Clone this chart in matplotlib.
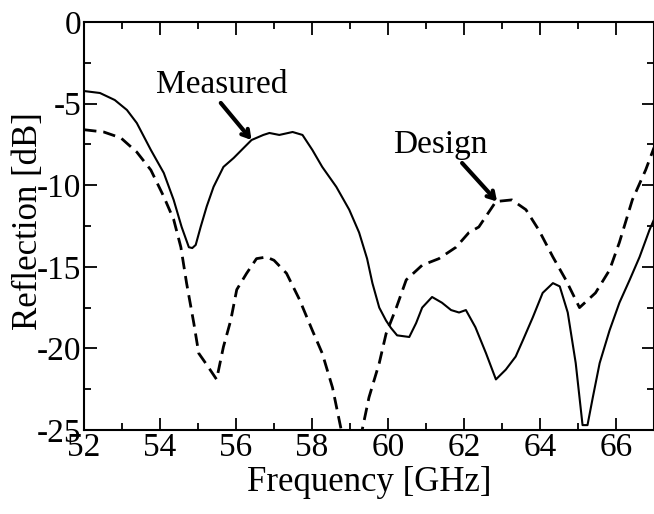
import matplotlib
matplotlib.use("Agg")
import matplotlib.pyplot as plt
from matplotlib.ticker import MultipleLocator

plt.rcParams['font.family'] = ['Liberation Serif', 'DejaVu Serif']
plt.rcParams['axes.unicode_minus'] = False

# measured reflection (solid)
meas_f = [52.0, 52.42, 52.81, 53.13, 53.39, 53.76, 54.1, 54.36, 54.57, 54.76, 54.85,
          54.94, 55.07, 55.23, 55.41, 55.67, 55.94, 56.2, 56.41, 56.72, 56.88, 57.14,
          57.49, 57.75, 58.01, 58.27, 58.64, 58.98, 59.24, 59.45, 59.59, 59.77, 59.95,
          60.08, 60.24, 60.56, 60.74, 60.9, 61.16, 61.42, 61.66, 61.87, 62.05, 62.3,
          62.58, 62.84, 63.1, 63.36, 63.55, 63.81, 64.07, 64.34, 64.52, 64.73, 64.94,
          65.12, 65.25, 65.39, 65.57, 65.83, 66.09, 66.36, 66.62, 66.88, 67.0]
meas_db = [-4.23, -4.35, -4.78, -5.39, -6.19, -7.84, -9.25, -10.9, -12.56, -13.8, -13.85,
           -13.66, -12.56, -11.3, -10.1, -8.88, -8.33, -7.72, -7.23, -6.92, -6.8, -6.92,
           -6.74, -6.92, -7.84, -8.88, -10.1, -11.5, -12.9, -14.5, -16.0, -17.5, -18.3,
           -18.75, -19.2, -19.3, -18.45, -17.5, -16.85, -17.2, -17.65, -17.8, -17.65, -18.7,
           -20.3, -21.9, -21.3, -20.5, -19.5, -18.1, -16.6, -16.0, -16.2, -17.8, -20.9,
           -24.7, -24.7, -23.0, -20.9, -18.9, -17.2, -15.8, -14.4, -12.75, -12.1]

# design reflection (dashed)
des_f = [52.0, 52.52, 52.97, 53.39, 53.76, 54.1, 54.36, 54.55, 54.7, 54.89, 55.02,
         55.23, 55.49, 55.67, 55.86, 56.02, 56.28, 56.54, 56.8, 57.0, 57.33, 57.67,
         58.01, 58.27, 58.54, 58.77, 59.0, 59.32, 59.5, 59.77, 59.95, 60.22, 60.48,
         60.9, 61.34, 61.79, 62.13, 62.39, 62.84, 63.26, 63.63, 63.97, 64.34, 64.68,
         65.04, 65.46, 65.83, 66.09, 66.43, 66.78, 67.0]
des_db = [-6.6, -6.74, -7.1, -7.97, -9.07, -10.7, -12.1, -13.8, -16.0, -18.45, -20.3,
          -21.0, -21.9, -19.9, -18.3, -16.4, -15.4, -14.5, -14.4, -14.6, -15.4, -17.0,
          -18.9, -20.3, -22.4, -25.0, -26.5, -25.0, -23.0, -20.9, -19.1, -17.5, -15.8,
          -14.9, -14.5, -13.8, -12.9, -12.56, -11.0, -10.9, -11.5, -12.75, -14.4, -15.8,
          -17.5, -16.6, -15.2, -13.5, -10.9, -9.07, -7.7]

fig = plt.figure(figsize=(6.54, 5.14), dpi=100)
ax = fig.add_axes([0.1284, 0.1634, 0.8716, 0.7938])

ax.plot(meas_f, meas_db, color='black', lw=1.5)
ax.plot(des_f, des_db, color='black', lw=2.0, dashes=(4.5, 2.5))

ax.set_xlim(52, 67)
ax.set_ylim(-25, 0)
ax.xaxis.set_major_locator(MultipleLocator(2))
ax.xaxis.set_minor_locator(MultipleLocator(1))
ax.yaxis.set_major_locator(MultipleLocator(5))
ax.yaxis.set_minor_locator(MultipleLocator(2.5))
ax.tick_params(which='both', direction='in', top=True, right=True, width=1.3,
               labelsize=24, pad=2)
ax.tick_params(which='major', length=9)
ax.tick_params(which='minor', length=5)
for s in ax.spines.values():
    s.set_linewidth(1.5)

ax.set_xlabel('Frequency [GHz]', fontsize=25, labelpad=2)
ax.set_ylabel('Reflection [dB]', fontsize=25)
ax.yaxis.set_label_coords(-0.068, 0.512)

arrow = dict(arrowstyle='->, head_length=0.5, head_width=0.3', lw=3, color='black',
             shrinkA=0, shrinkB=0)
ax.annotate('', xy=(56.41, -7.23), xytext=(55.6, -4.96), arrowprops=arrow)
ax.text(55.62, -3.86, 'Measured', fontsize=24, ha='center', va='center')
ax.annotate('', xy=(62.87, -11.0), xytext=(61.95, -8.64), arrowprops=arrow)
ax.text(61.37, -7.54, 'Design', fontsize=24, ha='center', va='center')

fig.savefig('out.png', dpi=100)
